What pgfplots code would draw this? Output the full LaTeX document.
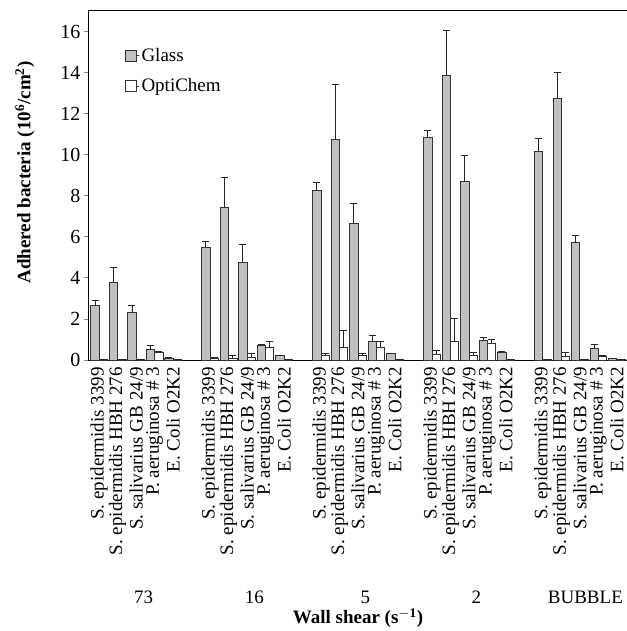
\documentclass[border=0pt]{standalone}
\usepackage{pgfplots}
\pgfplotsset{compat=1.18}
\usepackage{pgfplotstable}
\usepackage{fontspec}
\setmainfont{Liberation Serif}
\definecolor{barg}{RGB}{192,192,192}

% x = 6*group + species
\pgfplotstableread{
x  glass  gerr  opti  oerr
0  2.64   0.26  0.03  0
1  3.78   0.73  0.03  0
2  2.31   0.34  0.05  0
3  0.50   0.20  0.37  0.06
4  0.08   0.03  0.01  0
6  5.50   0.27  0.10  0.02
7  7.41   1.50  0.10  0.10
8  4.76   0.89  0.15  0.15
9  0.73   0.02  0.59  0.31
10 0.21   0.03  0.01  0
12 8.24   0.42  0.20  0.10
13 10.75  2.65  0.59  0.84
14 6.64   0.98  0.20  0.10
15 0.91   0.31  0.62  0.28
16 0.31   0.03  0.02  0
18 10.86  0.30  0.28  0.19
19 13.88  2.19  0.90  1.14
20 8.71   1.27  0.21  0.16
21 0.96   0.13  0.81  0.20
22 0.39   0.03  0.03  0
24 10.18  0.60  0.02  0
25 12.75  1.27  0.18  0.21
26 5.72   0.37  0.03  0
27 0.57   0.20  0.16  0.04
28 0.07   0     0.05  0
}\adhered

\newcommand{\fs}{\fontsize{19}{22}\selectfont}
\def\sp{S. epidermidis 3399,S. epidermidis HBH 276,S. salivarius GB 24/9,P. aeruginosa \# 3,E. Coli O2K2}

\begin{document}
\begin{tikzpicture}
\begin{axis}[
  scale only axis,
  width=538pt, height=349pt,
  ybar=0pt, bar width=0.45,
  xmin=-0.55, xmax=28.55,
  ymin=0, ymax=17,
  ytick={0,2,...,16},
  axis line style={line width=1pt},
  /pgf/number format/assume math mode=true,
  tick label style={font=\fs},
  yticklabel style={font=\fontsize{20}{22}\selectfont},
  ytick style={line width=0.8pt},
  tick align=outside, major tick length=5pt,
  xtick={0,1,2,3,4,6,7,8,9,10,12,13,14,15,16,18,19,20,21,22,24,25,26,27,28},
  xticklabels/.expanded={\sp,\sp,\sp,\sp,\sp},
  x tick style={draw=none},
  xticklabel style={rotate=90, anchor=east, inner sep=2pt},
  xlabel={\bfseries Wall shear (s$^{\mathbf{-1}}$)},
  xlabel style={font=\fs, at={(axis description cs:0.5,0)}, anchor=north, yshift=-245pt},
  ylabel={\bfseries Adhered bacteria (10$^{\mathbf{6}}$/cm$^{\mathbf{2}}$)},
  ylabel style={font=\fs, at={(axis description cs:-0.095,0.537)}, anchor=south},
  legend style={draw=none, fill=none, font=\fs, at={(0.066,0.9)}, anchor=north west,
    row sep=12pt, inner sep=0pt},
  legend cell align=left,
  legend image code/.code={\draw[#1, line width=0.8pt] (0pt,-5.5pt) rectangle (11pt,5.5pt); \path (11pt,0pt) -- (14pt,0pt);},
  error bars/y dir=plus, error bars/y explicit,
  error bars/error bar style={line width=0.9pt, black!85},
  error bars/error mark options={rotate=90, mark size=3.5pt, line width=0.9pt, black!85},
  clip=false,
]
\addplot[fill=barg, draw=black!80, line width=0.8pt] table[x=x, y=glass, y error=gerr] {\adhered};
\addplot[fill=white, draw=black!80, line width=0.8pt] table[x=x, y=opti, y error=oerr] {\adhered};
\legend{Glass, OptiChem}
% group labels (wall shear)
\node[font=\fs, anchor=base, yshift=-243pt] at (axis cs:2.4,0) {73};
\node[font=\fs, anchor=base, yshift=-243pt] at (axis cs:8.4,0) {16};
\node[font=\fs, anchor=base, yshift=-243pt] at (axis cs:14.4,0) {5};
\node[font=\fs, anchor=base, yshift=-243pt] at (axis cs:20.4,0) {2};
\node[font=\fs, anchor=base, yshift=-243pt] at (axis cs:26.3,0) {BUBBLE};
\end{axis}
\pgfresetboundingbox
\path ([xshift=-89pt,yshift=-271pt]current axis.south west) rectangle ([xshift=537pt,yshift=360pt]current axis.south west);
\end{tikzpicture}
\end{document}
